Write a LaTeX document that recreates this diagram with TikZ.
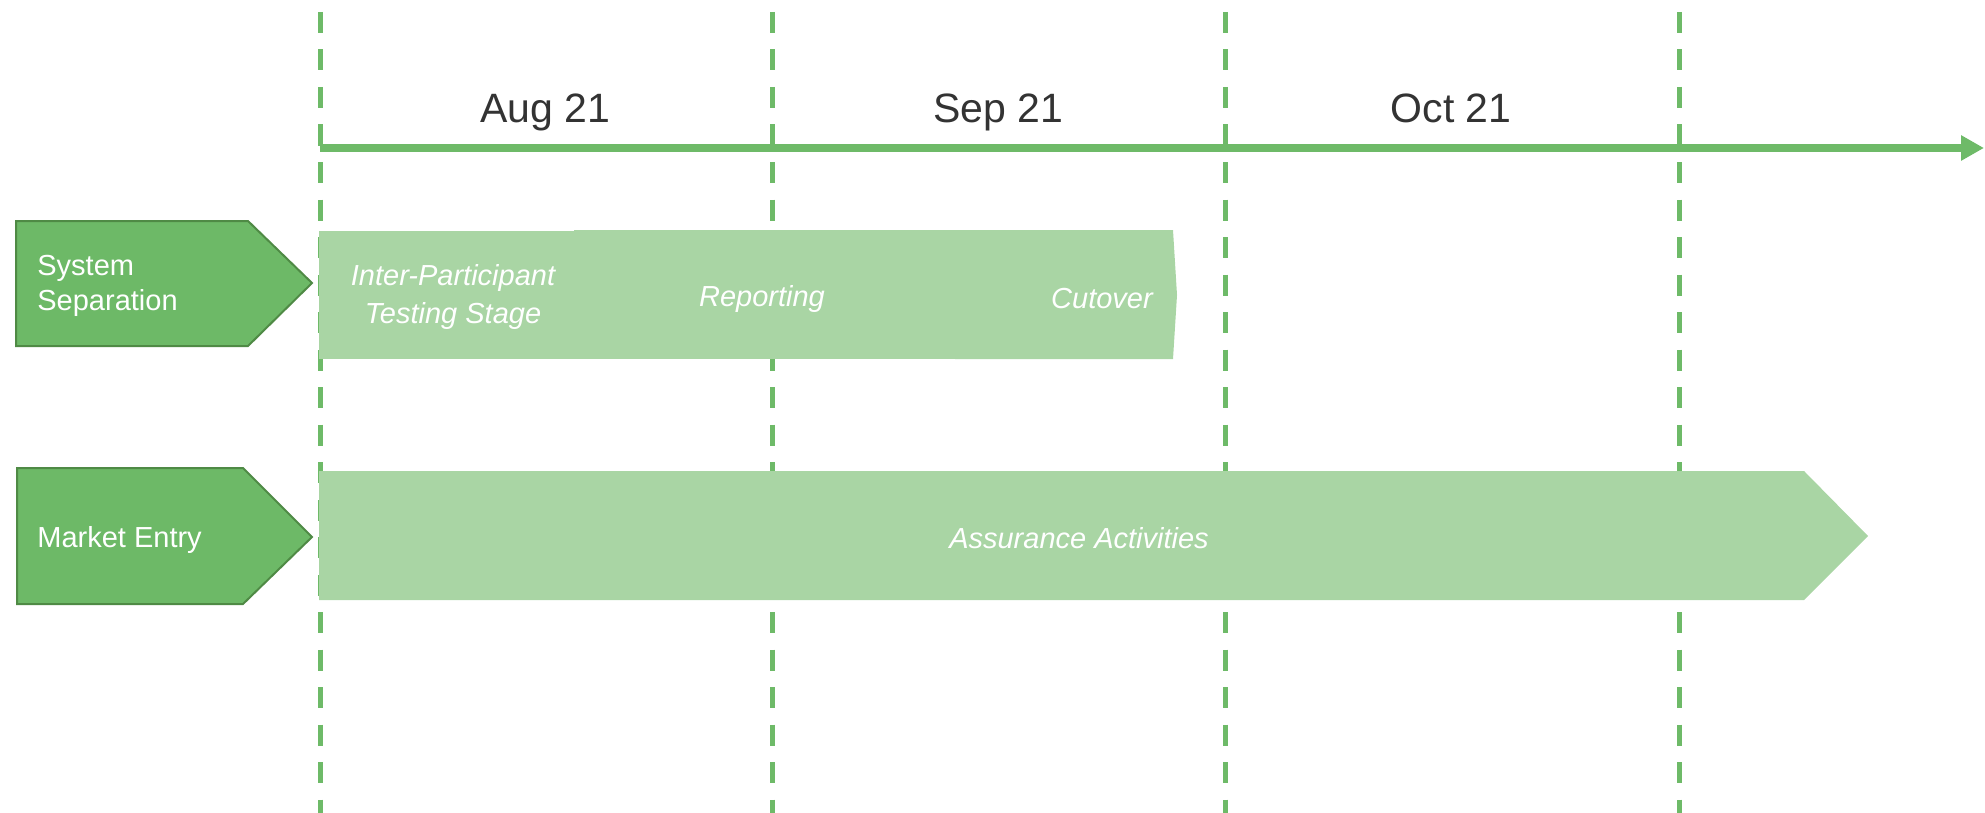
\documentclass[tikz,border=0pt]{standalone}
\usepackage{fontspec}
\setmainfont{Liberation Sans}
\usetikzlibrary{arrows.meta}

\definecolor{linegreen}{HTML}{6EBA68}
\definecolor{lanegreen}{HTML}{6DB967}
\definecolor{laneborder}{HTML}{4F8A45}
\definecolor{phasegreen}{HTML}{A9D5A4}
\definecolor{monthgray}{HTML}{333333}

\begin{document}
\begin{tikzpicture}[
        x=0.5pt, y=-0.5pt,
        >=Latex,
        every node/.style={font=\fontsize{14.5}{17.5}\selectfont, inner sep=0pt},
        month/.style={font=\fontsize{20.5}{24}\selectfont, text=monthgray, anchor=base},
        divider/.style={linegreen, line width=2.5pt, dash pattern=on 10.5pt off 8.25pt},
        timeline/.style={linegreen, line width=3.75pt, -{Triangle[length=11.5pt, width=12pt]}},
        lane/.style={fill=lanegreen, draw=laneborder, line width=1pt},
        lanetext/.style={text=white, align=left, anchor=west},
        phase/.style={fill=phasegreen},
        phasetext/.style={text=white, align=center, font=\fontsize{14.5}{19}\selectfont\itshape}
    ]
        \useasboundingbox (0,0) rectangle (1985,813);

        % month dividers
        \foreach \x in {320,772,1225,1679}
            \draw[divider] (\x,12) -- (\x,813);

        % time axis
        \coordinate (t0) at (320,148);
        \coordinate (t1) at (1984,148);
        \draw[timeline] (t0) -- (t1);

        \node[month] (aug) at (545,123) {Aug 21};
        \node[month] (sep) at (998,123) {Sep 21};
        \node[month] (oct) at (1451,123) {Oct 21};

        % lanes
        \draw[lane] (16,221) -- (248,221) -- (312,283) -- (248,346) -- (16,346) -- cycle;
        \node[lanetext] (sys) at (37,286) {System\\Separation};

        \draw[lane] (17,468) -- (243,468) -- (312,537) -- (243,604) -- (17,604) -- cycle;
        \node[lanetext] (mkt) at (37,540) {Market Entry};

        % system separation phases
        \fill[phase] (319,231) rectangle (580,359);
        \fill[phase] (574,230) rectangle (960,359);
        \fill[phase] (955,230) -- (1173,230) -- (1177,295) -- (1173,359) -- (955,359) -- cycle;
        \node[phasetext] (ipt) at (453,297) {Inter-Participant\\Testing Stage};
        \node[phasetext] (rep) at (762,299) {Reporting};
        \node[phasetext] (cut) at (1102,299) {Cutover};

        % market entry phase
        \fill[phase] (319,471) -- (1804,471) -- (1868,536) -- (1804,600) -- (319,600) -- cycle;
        \node[phasetext] (assure) at (1079,538) {Assurance Activities};
    \end{tikzpicture}
\end{document}
